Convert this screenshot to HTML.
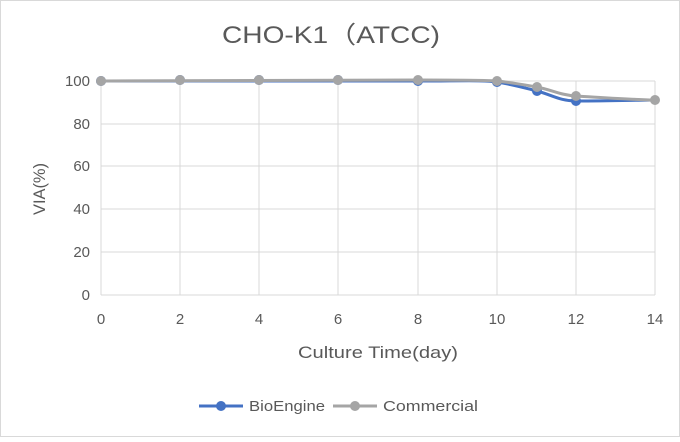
<!DOCTYPE html><html><head><style>body{margin:0;background:#fff}</style></head><body>
<svg width="680" height="437" xmlns="http://www.w3.org/2000/svg" font-family="Liberation Sans, sans-serif">
<rect x="0.5" y="0.5" width="679" height="436" fill="#fff" stroke="#d9d9d9"/>
<text x="222" y="43" font-size="24" fill="#595959" textLength="218" lengthAdjust="spacingAndGlyphs">CHO-K1（ATCC)</text>
<g stroke="#d9d9d9" stroke-width="1">
<line x1="101" y1="81" x2="655" y2="81"/><line x1="101" y1="124" x2="655" y2="124"/><line x1="101" y1="166" x2="655" y2="166"/><line x1="101" y1="209" x2="655" y2="209"/><line x1="101" y1="252" x2="655" y2="252"/><line x1="101" y1="295" x2="655" y2="295"/>
<line x1="101" y1="81" x2="101" y2="295"/><line x1="180" y1="81" x2="180" y2="295"/><line x1="259" y1="81" x2="259" y2="295"/><line x1="338" y1="81" x2="338" y2="295"/><line x1="418" y1="81" x2="418" y2="295"/><line x1="497" y1="81" x2="497" y2="295"/><line x1="576" y1="81" x2="576" y2="295"/><line x1="655" y1="81" x2="655" y2="295"/>
</g>
<g font-size="15" fill="#595959" text-anchor="end">
<text x="90" y="86">100</text><text x="90" y="129">80</text><text x="90" y="171">60</text><text x="90" y="214">40</text><text x="90" y="257">20</text><text x="90" y="300">0</text></g>
<g font-size="15" fill="#595959" text-anchor="middle">
<text x="101" y="324">0</text><text x="180" y="324">2</text><text x="259" y="324">4</text><text x="338" y="324">6</text><text x="418" y="324">8</text><text x="497" y="324">10</text><text x="576" y="324">12</text><text x="655" y="324">14</text></g>
<text x="298" y="358" font-size="17" fill="#595959" textLength="160" lengthAdjust="spacingAndGlyphs">Culture Time(day)</text>
<text transform="translate(45,215) rotate(-90)" font-size="17" fill="#595959" textLength="52" lengthAdjust="spacingAndGlyphs">VIA(%)</text>
<path fill="none" stroke="#4472c4" stroke-width="3" d="M101,81 L418,81 C460,81 485,80 497,82 C515,85 525,88 537,91 C552,95 560,101 576,101 C610,101 640,100 655,100"/>
<g fill="#4472c4"><circle cx="101" cy="81" r="5"/><circle cx="180" cy="80" r="5"/><circle cx="259" cy="80" r="5"/><circle cx="338" cy="80" r="5"/><circle cx="418" cy="81" r="5"/><circle cx="497" cy="82" r="5"/><circle cx="537" cy="91" r="5"/><circle cx="576" cy="101" r="5"/></g>
<path fill="none" stroke="#a5a5a5" stroke-width="3" d="M101,81 L418,80 C460,80 485,80 497,81 C515,83 525,85 537,87 C552,90 560,95 576,96 C610,98 640,100 655,100"/>
<g fill="#a5a5a5"><circle cx="101" cy="81" r="5"/><circle cx="180" cy="80" r="5"/><circle cx="259" cy="80" r="5"/><circle cx="338" cy="80" r="5"/><circle cx="418" cy="80" r="5"/><circle cx="497" cy="81" r="5"/><circle cx="537" cy="87" r="5"/><circle cx="576" cy="96" r="5"/><circle cx="655" cy="100" r="5"/></g>
<line x1="199" y1="406" x2="243" y2="406" stroke="#4472c4" stroke-width="3"/><circle cx="221" cy="406" r="5" fill="#4472c4"/>
<text x="249" y="411" font-size="15" fill="#595959" textLength="76" lengthAdjust="spacingAndGlyphs">BioEngine</text>
<line x1="333" y1="406" x2="377" y2="406" stroke="#a5a5a5" stroke-width="3"/><circle cx="355" cy="406" r="5" fill="#a5a5a5"/>
<text x="383" y="411" font-size="15" fill="#595959" textLength="95" lengthAdjust="spacingAndGlyphs">Commercial</text>
</svg></body></html>
